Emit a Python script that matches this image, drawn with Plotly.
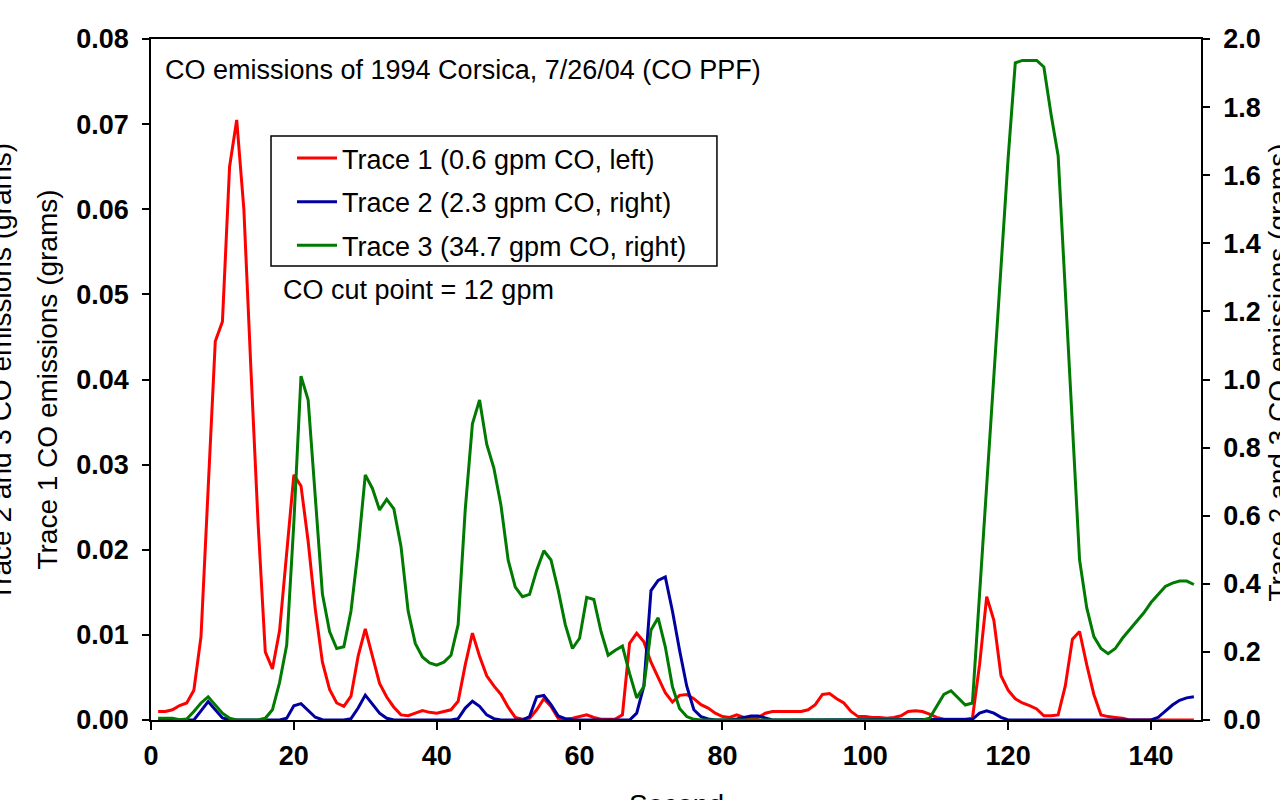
import plotly.graph_objects as go

seconds = list(range(1, 147))

trace1_left = [
    0.0010, 0.0010, 0.0012, 0.0017, 0.0020, 0.0035, 0.0098, 0.0270, 0.0445, 0.0468,
    0.0650, 0.0705, 0.0600, 0.0410, 0.0230, 0.0080, 0.0060, 0.0105, 0.0200, 0.0288,
    0.0275, 0.0210, 0.0130, 0.0068, 0.0036, 0.0020, 0.0016, 0.0028, 0.0075, 0.0107,
    0.0075, 0.0043, 0.0027, 0.0015, 0.0006, 0.0005, 0.0008, 0.0011, 0.0009, 0.0008,
    0.0010, 0.0012, 0.0022, 0.0065, 0.0102, 0.0075, 0.0052, 0.0040, 0.0030, 0.0015,
    0.0003, 0.0001, 0.0002, 0.0012, 0.0025, 0.0016, 0.0002, 0.0001, 0.0002, 0.0004,
    0.0006, 0.0003, 0.0001, 0.0001, 0.0001, 0.0006, 0.0090, 0.0102, 0.0092, 0.0068,
    0.0050, 0.0032, 0.0021, 0.0029, 0.0030, 0.0025, 0.0018, 0.0014, 0.0008, 0.0004,
    0.0003, 0.0006, 0.0003, 0.0003, 0.0003, 0.0008, 0.0010, 0.0010, 0.0010, 0.0010,
    0.0010, 0.0012, 0.0018, 0.0030, 0.0031, 0.0025, 0.0020, 0.0010, 0.0004, 0.0004,
    0.0003, 0.0003, 0.0002, 0.0003, 0.0005, 0.0010, 0.0011, 0.0010, 0.0007, 0.0003,
    0.0001, 0.0001, 0.0001, 0.0001, 0.0002, 0.0065, 0.0145, 0.0117, 0.0052, 0.0035,
    0.0025, 0.0020, 0.0017, 0.0013, 0.0005, 0.0005, 0.0006, 0.0040, 0.0095, 0.0104,
    0.0065, 0.0030, 0.0006, 0.0004, 0.0003, 0.0002, 0.0, 0.0, 0.0, 0.0,
    0.0, 0.0, 0.0, 0.0, 0.0, 0.0,
]

trace2_right = [
    0, 0, 0, 0, 0, 0, 0.027, 0.054, 0.030, 0.006,
    0.001, 0, 0, 0, 0, 0, 0, 0, 0.005, 0.042,
    0.048, 0.028, 0.008, 0.001, 0, 0, 0, 0.004, 0.035, 0.073,
    0.047, 0.020, 0.005, 0, 0, 0, 0, 0, 0, 0,
    0, 0, 0.004, 0.035, 0.055, 0.040, 0.015, 0.004, 0, 0,
    0, 0, 0.010, 0.068, 0.072, 0.045, 0.012, 0.004, 0.001, 0,
    0, 0, 0, 0, 0, 0, 0, 0.020, 0.100, 0.380,
    0.410, 0.420, 0.320, 0.205, 0.100, 0.030, 0.010, 0.003, 0, 0,
    0, 0.003, 0.008, 0.012, 0.012, 0.006, 0, 0, 0, 0,
    0, 0, 0, 0, 0, 0, 0, 0, 0, 0,
    0, 0, 0, 0, 0, 0, 0, 0, 0, 0,
    0, 0, 0, 0, 0.002, 0.020, 0.027, 0.020, 0.008, 0,
    0, 0, 0, 0, 0, 0, 0, 0, 0, 0,
    0, 0, 0, 0, 0, 0, 0, 0, 0, 0,
    0.008, 0.025, 0.044, 0.058, 0.065, 0.068,
]

trace3_right = [
    0.005, 0.005, 0.005, 0.001, 0.003, 0.025, 0.050, 0.068, 0.045, 0.020,
    0.005, 0, 0, 0, 0, 0.005, 0.030, 0.110, 0.220, 0.580,
    1.010, 0.940, 0.650, 0.370, 0.260, 0.210, 0.215, 0.320, 0.500, 0.720,
    0.680, 0.617, 0.648, 0.620, 0.510, 0.320, 0.225, 0.185, 0.168, 0.161,
    0.170, 0.190, 0.280, 0.620, 0.870, 0.940, 0.810, 0.740, 0.630, 0.470,
    0.390, 0.362, 0.369, 0.440, 0.497, 0.470, 0.382, 0.280, 0.210, 0.240,
    0.360, 0.354, 0.260, 0.190, 0.205, 0.217, 0.137, 0.065, 0.098, 0.264,
    0.300, 0.215, 0.098, 0.034, 0.010, 0.002, 0, 0, 0, 0,
    0, 0, 0, 0, 0, 0, 0, 0, 0, 0,
    0, 0, 0, 0, 0, 0, 0, 0, 0, 0,
    0, 0, 0, 0, 0, 0, 0, 0, 0.005, 0.040,
    0.075, 0.086, 0.065, 0.044, 0.050, 0.370, 0.690, 1.010, 1.330, 1.650,
    1.930, 1.937, 1.937, 1.937, 1.918, 1.780, 1.657, 1.250, 0.840, 0.470,
    0.330, 0.245, 0.210, 0.195, 0.210, 0.240, 0.265, 0.290, 0.315, 0.345,
    0.370, 0.392, 0.402, 0.408, 0.408, 0.398,
]

names = [
    "Trace 1 (0.6 gpm CO, left)",
    "Trace 2 (2.3 gpm CO, right)",
    "Trace 3 (34.7 gpm CO, right)",
]
colors = ["#FF0000", "#0000A0", "#007A00"]

FONT = "Liberation Sans, Arial, sans-serif"
FS = 27
TFS = 28

fig = go.Figure()
fig.add_trace(go.Scatter(x=seconds, y=trace1_left, name=names[0], mode="lines",
                         line=dict(color=colors[0], width=3), legendgroup="g1", yaxis="y"))
fig.add_trace(go.Scatter(x=seconds, y=trace2_right, name=names[1], mode="lines",
                         line=dict(color=colors[1], width=3), legendgroup="g2", yaxis="y2"))
fig.add_trace(go.Scatter(x=seconds, y=trace3_right, name=names[2], mode="lines",
                         line=dict(color=colors[2], width=3), legendgroup="g3", yaxis="y2"))

tickfont = dict(family=FONT, size=FS, color="black", weight="bold")
textfont = dict(family=FONT, size=FS, color="black")
titlefont = dict(family=FONT, size=TFS, color="black")

fig.update_layout(
    width=1280, height=800,
    margin=dict(l=151, r=79, t=39, b=80, autoexpand=False),
    paper_bgcolor="white", plot_bgcolor="white",
    font=dict(family=FONT, size=FS, color="black"),
    showlegend=True,
    legend=dict(x=0.1343, y=0.8605, xanchor="left", yanchor="top",
                borderwidth=0, bgcolor="rgba(0,0,0,0)", itemwidth=40,
                font=textfont, tracegroupgap=5.5, traceorder="grouped"),
    shapes=[
        dict(type="rect", xref="paper", yref="paper", x0=0.1143, x1=0.539,
             y0=0.6667, y1=0.8576, line=dict(color="black", width=1.5),
             fillcolor="rgba(0,0,0,0)", layer="above"),
    ],
    xaxis=dict(range=[0, 147], tick0=0, dtick=20, ticks="outside", ticklen=8,
               tickwidth=1.5, tickcolor="black", showline=True, linecolor="black",
               linewidth=1.5, mirror=True, showgrid=False, zeroline=False,
               tickfont=tickfont, automargin=False, ticklabelstandoff=3),
    yaxis=dict(range=[0, 0.08], tick0=0, dtick=0.01, tickformat=".2f", ticks="outside",
               ticklen=7, tickwidth=1.5, tickcolor="black", showline=True,
               linecolor="black", linewidth=1.5, showgrid=False, zeroline=False,
               tickfont=tickfont, automargin=False, ticklabelstandoff=8,
               title=dict(text="Trace 1 CO emissions (grams)", font=titlefont, standoff=10)),
    yaxis2=dict(range=[0, 2.0], tick0=0, dtick=0.2, tickformat=".1f", ticks="outside",
                ticklen=7, tickwidth=1.5, tickcolor="black", showline=True,
                linecolor="black", linewidth=1.5, showgrid=False, zeroline=False,
                overlaying="y", side="right", tickfont=tickfont, automargin=False,
                ticklabelstandoff=8),
    yaxis3=dict(range=[0, 2.0], tick0=0, dtick=0.2, ticks="inside", ticklen=8,
                tickwidth=1.5, tickcolor="black", showline=False, showgrid=False,
                zeroline=False, showticklabels=False, overlaying="y", side="right",
                automargin=False),
    annotations=[
        dict(text="CO emissions of 1994 Corsica, 7/26/04 (CO PPF)", xref="paper", yref="paper",
             x=0.0114, y=0.9545, xanchor="left", yanchor="middle", showarrow=False,
             font=textfont),
        dict(text="CO cut point = 12 gpm", xref="paper", yref="paper",
             x=0.1238, y=0.6314, xanchor="left", yanchor="middle", showarrow=False,
             font=textfont),
        dict(text="Trace 2 and 3 CO emissions (grams)", xref="paper", yref="paper",
             x=-0.143, y=0.511, xanchor="center", yanchor="middle", showarrow=False,
             textangle=-90, font=titlefont),
        dict(text="Trace 2 and 3 CO emissions (grams)", xref="paper", yref="paper",
             x=1.0738, y=0.511, xanchor="center", yanchor="middle", showarrow=False,
             textangle=-90, font=titlefont),
        dict(text="Second", xref="paper", yref="paper",
             x=0.5, y=-0.1248, xanchor="center", yanchor="middle", showarrow=False,
             font=titlefont),
    ],
)

fig.write_html("out.html", config={"displayModeBar": False},
               post_script="document.body.style.margin='0px';")
